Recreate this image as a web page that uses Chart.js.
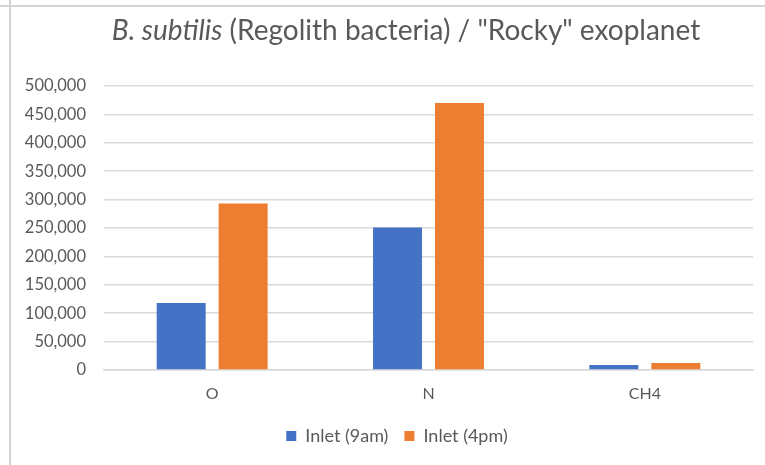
<!DOCTYPE html>
<html>
<head>
<meta charset="utf-8">
<script src="https://cdn.jsdelivr.net/npm/chart.js@4/dist/chart.umd.min.js"></script>
<style>
  html, body { margin: 0; padding: 0; background: #fff; }
  #wrap { width: 765px; height: 465px; position: relative; }
</style>
</head>
<body>
<div id="wrap"><canvas id="c" width="765" height="465"></canvas></div>
<script>
const categories = ["O", "N", "CH4"];
const seriesNames = ["Inlet (9am)", "Inlet (4pm)"];
const inlet9am = [118000, 251000, 8800];
const inlet4pm = [293000, 470000, 12400];
const yTicks = [0, 50000, 100000, 150000, 200000, 250000, 300000, 350000, 400000, 450000, 500000];

const FONT = "Lato, 'Liberation Sans', sans-serif";
const GREY = "#595959";

const framePlugin = {
  id: "frame",
  afterLayout(chart) {
    if (chart.legend) { chart.legend.left += 41; }
  },
  beforeDraw(chart) {
    const ctx = chart.ctx;
    ctx.save();
    ctx.fillStyle = "#fff";
    ctx.fillRect(0, 0, chart.width, chart.height);
    ctx.strokeStyle = "#d4d4d4";
    ctx.lineWidth = 2;
    ctx.beginPath();
    ctx.moveTo(0, 6); ctx.lineTo(chart.width, 6);
    ctx.moveTo(10, 0); ctx.lineTo(10, chart.height);
    ctx.stroke();
    ctx.restore();
  },
  afterDraw(chart) {
    const ctx = chart.ctx;
    ctx.save();
    ctx.fillStyle = GREY;
    ctx.textBaseline = "middle";
    const italicPart = "B. subtilis";
    const rest = " (Regolith bacteria) / \"Rocky\" exoplanet";
    const size = 28;
    ctx.font = "italic " + size + "px " + FONT;
    const w1 = ctx.measureText(italicPart).width;
    ctx.font = size + "px " + FONT;
    const w2 = ctx.measureText(rest).width;
    const cx = 406;
    let x = cx - (w1 + w2) / 2;
    const y = 31;
    ctx.textAlign = "left";
    ctx.font = "italic " + size + "px " + FONT;
    ctx.fillText(italicPart, x, y);
    ctx.font = size + "px " + FONT;
    ctx.fillText(rest, x + w1, y);
    ctx.restore();
  }
};

new Chart(document.getElementById("c"), {
  type: "bar",
  data: {
    labels: categories,
    datasets: [
      { label: seriesNames[0], data: inlet9am, backgroundColor: "#4472C4" },
      { label: seriesNames[1], data: inlet4pm, backgroundColor: "#ED7D31" }
    ]
  },
  options: {
    responsive: false,
    animation: false,
    devicePixelRatio: 1,
    categoryPercentage: 0.573,
    barPercentage: 0.79,
    layout: { padding: { top: 86, right: 12, bottom: 10, left: 0 } },
    plugins: {
      title: { display: false },
      tooltip: { enabled: false },
      legend: {
        position: "bottom",
        labels: {
          font: { family: FONT, size: 18 },
          color: GREY,
          boxWidth: 10,
          boxHeight: 10,
          padding: 16
        }
      }
    },
    scales: {
      x: {
        grid: { display: false, drawTicks: false },
        border: { display: true, color: "#d9d9d9", width: 1.5 },
        ticks: { font: { family: FONT, size: 16 }, color: GREY, padding: 14 },
        afterFit(scale) { scale.height = 41; }
      },
      y: {
        min: 0,
        max: 500000,
        afterBuildTicks(scale) { scale.ticks = yTicks.map(v => ({ value: v })); },
        grid: { color: "#d9d9d9", lineWidth: 1.5, drawTicks: false },
        border: { display: false },
        ticks: {
          font: { family: FONT, size: 16.5 },
          color: GREY,
          padding: 18,
          callback: v => v.toLocaleString("en-US")
        },
        afterFit(scale) { scale.width = 104; }
      }
    }
  },
  plugins: [framePlugin]
});
</script>
</body>
</html>
